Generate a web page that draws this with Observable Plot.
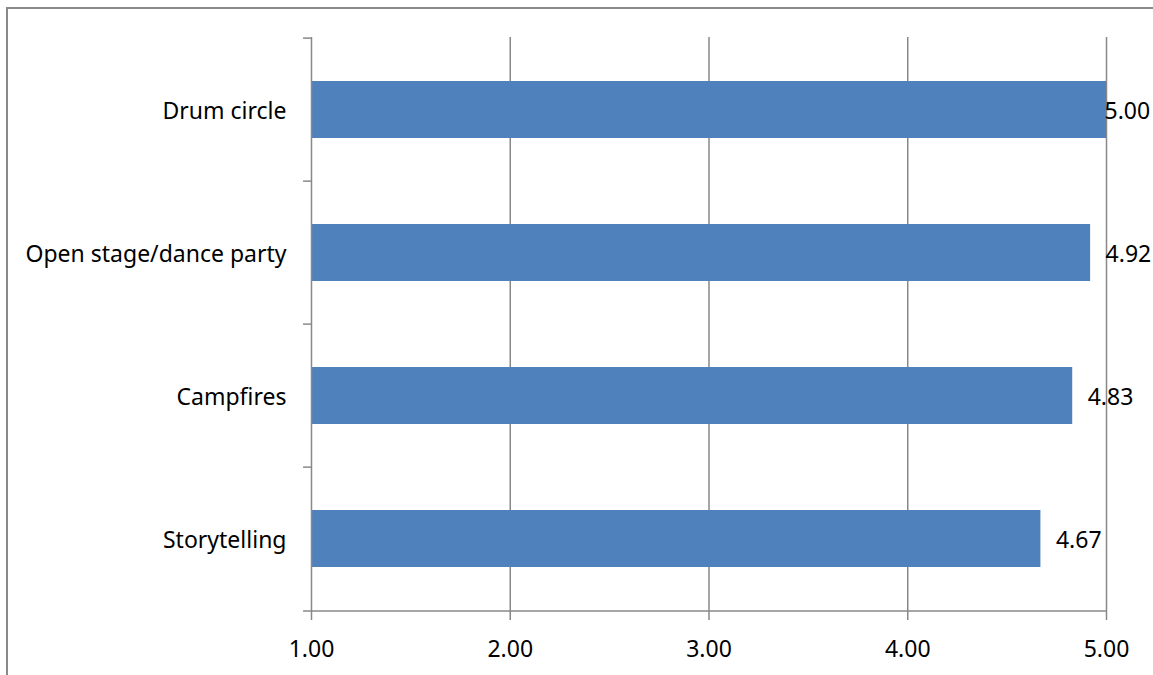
<!DOCTYPE html>
<html>
<head>
<meta charset="utf-8">
<script src="https://cdn.jsdelivr.net/npm/d3@7"></script>
<script src="https://cdn.jsdelivr.net/npm/@observablehq/plot@0.6"></script>
<style>
  html, body { margin: 0; padding: 0; background: #fff; }
  #wrap { position: relative; width: 1153px; height: 675px; overflow: hidden; }
  #frame { position: absolute; left: 6px; top: 7px; width: 1160px; height: 700px;
           border: 2px solid #8a8a8a; box-sizing: border-box; pointer-events: none; }
  #chart { position: absolute; left: 0; top: 0; }
</style>
</head>
<body>
<div id="wrap"><div id="chart"></div><div id="frame"></div></div>
<script>
const categories = ["Drum circle", "Open stage/dance party", "Campfires", "Storytelling"];
const values = [5.00, 4.92, 4.83, 4.67];
const xTicks = [1, 2, 3, 4, 5];

const data = categories.map((c, i) => ({category: c, value: values[i]}));
const xMin = 1, xMax = 5;
const font = "'Noto Sans', sans-serif";
const fs = 23;
const fits = d => d.value < xMax; // label goes outside the bar unless the bar reaches the axis end
const halfStep = 71.875;

const chart = Plot.plot({
  width: 1153,
  height: 675,
  marginLeft: 311,
  marginRight: 47,
  marginTop: 37,
  marginBottom: 63,
  style: {fontFamily: font, fontSize: fs + "px", color: "#000", background: "transparent"},
  x: {domain: [xMin, xMax]},
  y: {domain: categories, paddingInner: 0.6, paddingOuter: 0.3},
  marks: [
    Plot.ruleX(xTicks.slice(1), {stroke: "#888", strokeWidth: 1.5, strokeOpacity: 1}),
    Plot.barX(data, {x1: xMin, x2: "value", y: "category", fill: "#4F81BD"}),
    Plot.ruleX([xMin], {stroke: "#888", strokeWidth: 1.5}),
    // y-axis boundary ticks
    Plot.ruleY(categories, {y: d => d, x1: xMin - 0.04, x2: xMin, dy: -halfStep, stroke: "#888", strokeWidth: 1.5}),
    Plot.ruleY(categories.slice(-1), {y: d => d, x1: xMin - 0.04, x2: xMax, dy: halfStep, stroke: "#888", strokeWidth: 1.5}),
    Plot.axisY({tickSize: 0, tickPadding: 25, label: null, fontSize: fs, fill: "#000", dy: 2}),
    Plot.axisX(xTicks, {tickSize: 8, tickPadding: 20, label: null, tickFormat: d3.format(".2f"),
      stroke: "#888", strokeWidth: 1.5, fontSize: fs, fill: "#000"}),
    Plot.text(data.filter(fits), {x: "value", y: "category", text: d => d3.format(".2f")(d.value),
      textAnchor: "start", dx: 15, dy: 2, fontSize: fs, fill: "#000"}),
    Plot.text(data.filter(d => !fits(d)), {x: "value", y: "category", text: d => d3.format(".2f")(d.value),
      textAnchor: "start", dx: -2, dy: 2, fontSize: fs, fill: "#000"})
  ]
});
document.getElementById("chart").appendChild(chart);
</script>
</body>
</html>
